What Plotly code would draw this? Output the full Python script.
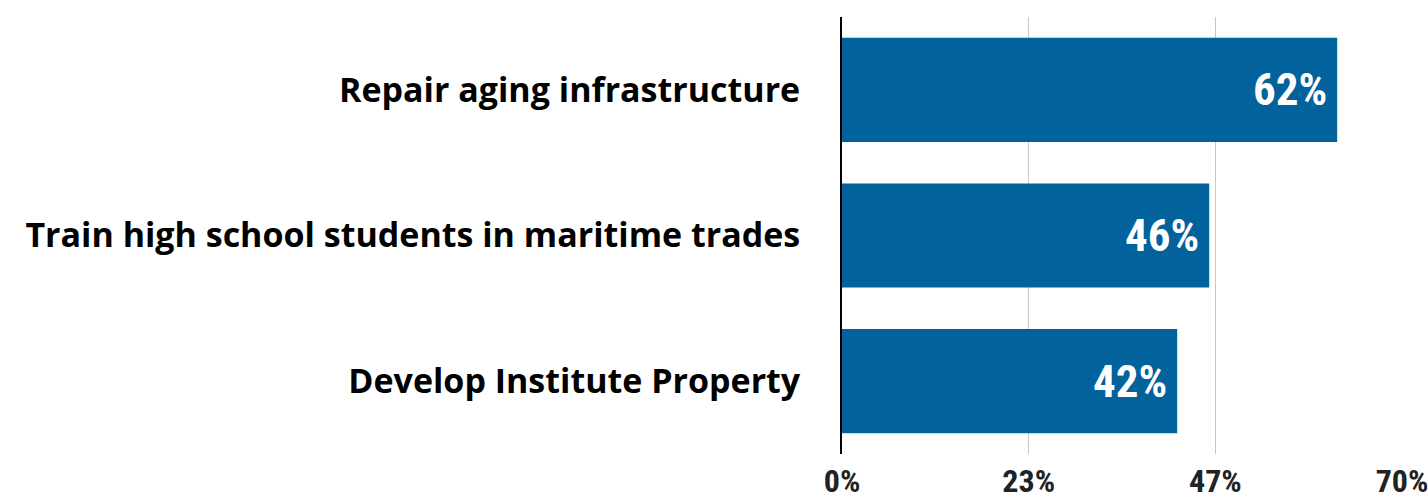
import plotly.graph_objects as go

categories = ["Repair aging infrastructure",
              "Train high school students in maritime trades",
              "Develop Institute Property"]
values = [61.9, 45.9, 41.9]
value_labels = ["62%", "46%", "42%"]
tick_vals = [0, 70/3, 140/3, 70]
tick_text = ["0%", "23%", "47%", "70%"]

cond = "Roboto Condensed, Open Sans Condensed, sans-serif"

fig = go.Figure(go.Bar(
    y=categories, x=values, orientation="h",
    marker=dict(color="#01629c", line=dict(width=0)),
    width=0.715,
    hoverinfo="x+y",
))

for cat, val, lab in zip(categories, values, value_labels):
    fig.add_annotation(x=val, y=cat, xref="x", yref="y", text=lab,
                       showarrow=False, xanchor="right", yanchor="middle",
                       xshift=-8,
                       font=dict(family=cond, size=45, color="white", weight="bold"))

fig.update_layout(
    width=1428, height=499,
    margin=dict(l=842, r=26, t=17, b=45, autoexpand=False),
    paper_bgcolor="white", plot_bgcolor="white",
    showlegend=False,
)
fig.update_xaxes(
    range=[0, 70], tickvals=tick_vals, ticktext=tick_text,
    showgrid=True, gridcolor="#c8c8c8", gridwidth=1,
    zeroline=False, showline=False, automargin=False,
    ticklabeloverflow="allow",
    tickfont=dict(family=cond, size=32, color="#222222", weight="bold"),
    ticklabelstandoff=5,
)
fig.update_yaxes(
    categoryorder="array", categoryarray=categories[::-1],
    range=[-0.5, 2.5],
    showline=True, linecolor="black", linewidth=2,
    showgrid=False, zeroline=False, automargin=False,
    tickfont=dict(family="Open Sans, sans-serif", size=34, color="black", weight="bold"),
    ticklabelstandoff=33,
)

fig.write_html("out.html", config={"displayModeBar": False},
               post_script="document.body.style.margin='0';document.body.style.overflow='hidden';")
